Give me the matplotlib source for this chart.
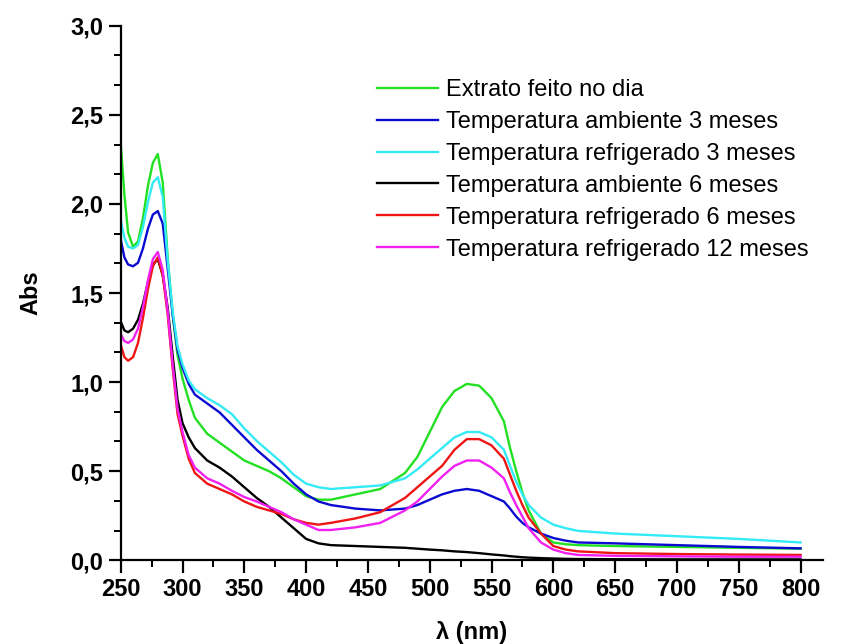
import numpy as np
import matplotlib
matplotlib.use("Agg")
import matplotlib.pyplot as plt
from matplotlib.ticker import MultipleLocator, FuncFormatter

plt.rcParams['font.family'] = ['Liberation Sans', 'DejaVu Sans']

# wavelength grid (nm)
wl = [250, 253, 256, 260, 264, 268, 272, 276, 280, 284, 288, 292, 296, 300, 305, 310,
      320, 330, 340, 350, 360, 370, 380, 390, 400, 410, 420, 440, 460, 480, 490, 500,
      510, 520, 530, 540, 550, 560, 565, 570, 575, 580, 590, 600, 610, 620, 650, 700,
      750, 800]

abs_dia = [2.34, 2.05, 1.84, 1.76, 1.79, 1.92, 2.10, 2.23, 2.28, 2.12, 1.70, 1.38, 1.15, 1.02, 0.90, 0.80,
           0.71, 0.66, 0.61, 0.56, 0.53, 0.50, 0.46, 0.41, 0.36, 0.34, 0.34, 0.37, 0.40, 0.49, 0.58, 0.72,
           0.86, 0.95, 0.99, 0.98, 0.91, 0.78, 0.63, 0.50, 0.38, 0.28, 0.15, 0.10, 0.09, 0.085, 0.08, 0.075,
           0.07, 0.065]

abs_amb3 = [1.80, 1.70, 1.66, 1.65, 1.67, 1.75, 1.86, 1.94, 1.96, 1.89, 1.64, 1.38, 1.18, 1.08, 0.99, 0.93,
            0.88, 0.83, 0.76, 0.69, 0.62, 0.56, 0.50, 0.43, 0.37, 0.33, 0.31, 0.29, 0.28, 0.29, 0.31, 0.34,
            0.37, 0.39, 0.40, 0.39, 0.36, 0.33, 0.29, 0.245, 0.21, 0.185, 0.15, 0.125, 0.11, 0.10, 0.095, 0.085,
            0.075, 0.067]

abs_ref3 = [1.91, 1.81, 1.76, 1.75, 1.77, 1.87, 2.01, 2.12, 2.15, 2.04, 1.68, 1.40, 1.20, 1.10, 1.01, 0.96,
            0.91, 0.87, 0.82, 0.74, 0.67, 0.61, 0.55, 0.48, 0.43, 0.41, 0.40, 0.41, 0.42, 0.46, 0.51, 0.57,
            0.63, 0.69, 0.72, 0.72, 0.69, 0.62, 0.53, 0.44, 0.37, 0.31, 0.24, 0.20, 0.18, 0.165, 0.15, 0.135,
            0.12, 0.10]

abs_amb6 = [1.34, 1.29, 1.28, 1.30, 1.35, 1.44, 1.56, 1.66, 1.69, 1.60, 1.42, 1.15, 0.90, 0.77, 0.69, 0.63,
            0.56, 0.52, 0.47, 0.41, 0.35, 0.30, 0.24, 0.18, 0.12, 0.095, 0.085, 0.08, 0.075, 0.07, 0.065, 0.06,
            0.056, 0.05, 0.046, 0.04, 0.033, 0.027, 0.023, 0.02, 0.017, 0.015, 0.012, 0.01, 0.008, 0.007, 0.006, 0.005,
            0.005, 0.005]

abs_ref6 = [1.21, 1.14, 1.12, 1.14, 1.22, 1.36, 1.52, 1.65, 1.70, 1.60, 1.38, 1.08, 0.82, 0.70, 0.57, 0.49,
            0.43, 0.40, 0.37, 0.33, 0.30, 0.28, 0.26, 0.23, 0.21, 0.20, 0.21, 0.235, 0.27, 0.35, 0.41, 0.47,
            0.53, 0.62, 0.68, 0.68, 0.645, 0.57, 0.48, 0.39, 0.31, 0.24, 0.15, 0.08, 0.06, 0.05, 0.04, 0.035,
            0.032, 0.03]

abs_ref12 = [1.27, 1.23, 1.22, 1.24, 1.30, 1.42, 1.57, 1.69, 1.73, 1.63, 1.40, 1.10, 0.85, 0.72, 0.59, 0.52,
             0.46, 0.43, 0.39, 0.355, 0.33, 0.30, 0.27, 0.23, 0.20, 0.17, 0.17, 0.185, 0.21, 0.28, 0.33, 0.40,
             0.47, 0.53, 0.56, 0.56, 0.52, 0.46, 0.38, 0.31, 0.245, 0.18, 0.10, 0.06, 0.04, 0.03, 0.025, 0.022,
             0.02, 0.02]

labels = ["Extrato feito no dia",
          "Temperatura ambiente 3 meses",
          "Temperatura refrigerado 3 meses",
          "Temperatura ambiente 6 meses",
          "Temperatura refrigerado 6 meses",
          "Temperatura refrigerado 12 meses"]
colors = ["#22e022", "#0a0ad0", "#33eaf5", "#000000", "#ee1515", "#f020f0"]
series = [abs_dia, abs_amb3, abs_ref3, abs_amb6, abs_ref6, abs_ref12]

fig = plt.figure(figsize=(8.5, 6.44), dpi=100)
ax = fig.add_axes([0.142, 0.130, 0.826, 0.830])

for ys, c, lab in zip(series, colors, labels):
    ax.plot(wl, ys, color=c, lw=1.7, label=lab, solid_joinstyle="round")

ax.set_xlim(250, 818)
ax.set_ylim(0, 3.0)
ax.xaxis.set_major_locator(MultipleLocator(50))
ax.xaxis.set_minor_locator(MultipleLocator(25))
ax.yaxis.set_major_locator(MultipleLocator(0.5))
ax.yaxis.set_minor_locator(MultipleLocator(0.5 / 3))
ax.yaxis.set_major_formatter(FuncFormatter(lambda v, p: f"{v:.1f}".replace(".", ",")))

for s in ["top", "right"]:
    ax.spines[s].set_visible(False)
for s in ["left", "bottom"]:
    ax.spines[s].set_linewidth(1.6)

ax.tick_params(which="major", direction="out", length=9, width=1.6, labelsize=17)
ax.tick_params(which="minor", direction="out", length=5, width=1.4)
for t in ax.get_xticklabels() + ax.get_yticklabels():
    t.set_fontweight("bold")

ax.set_xlabel("λ (nm)", fontsize=17, fontweight="bold", labelpad=15)
ax.set_ylabel("Abs", fontsize=17, fontweight="bold", labelpad=20)

fig.legend(loc="upper left", bbox_to_anchor=(0.432, 0.892), frameon=False,
           fontsize=17, handlelength=2.6, handletextpad=0.35, labelspacing=0.42,
           borderaxespad=0)

fig.savefig("out.png", dpi=100)
